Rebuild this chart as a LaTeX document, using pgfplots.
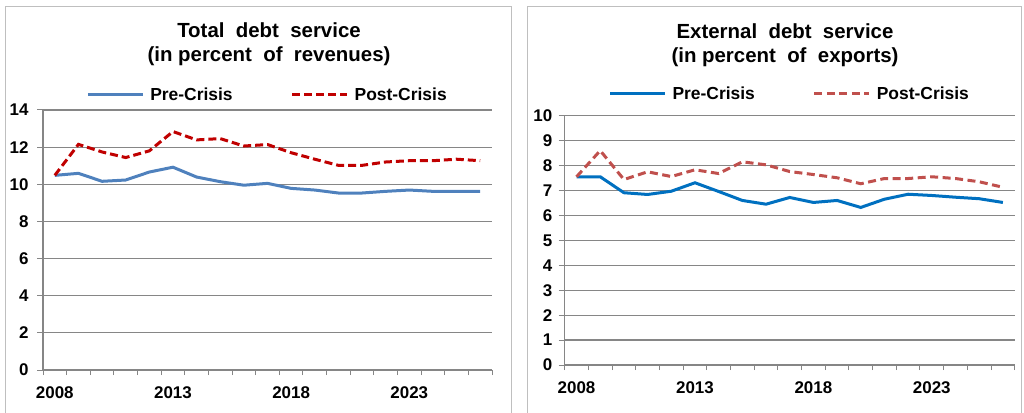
\documentclass[border=0pt]{standalone}
\usepackage{fontspec}
\setmainfont{Liberation Sans}
\usepackage{pgfplots}
\pgfplotsset{compat=1.18}

\definecolor{gridgray}{HTML}{868686}
\definecolor{panelgray}{HTML}{BFBFBF}
\definecolor{preA}{HTML}{4F81BD}
\definecolor{postA}{HTML}{C00000}
\definecolor{preB}{HTML}{0070C0}
\definecolor{postB}{HTML}{C0504D}

\pgfplotsset{
  debtpanel/.style={
    scale only axis, anchor=south west,
    xmin=-0.5, xmax=18.5, ymin=0,
    axis x line*=bottom, axis y line*=left,
    axis line style={gridgray, line width=1.3bp},
    ymajorgrids, grid style={gridgray, line width=1.2bp},
    tick align=outside,
    xtick={0,5,10,15}, xticklabels={2008,2013,2018,2023},
    major x tick style={draw=none},
    minor xtick={-0.5,0.5,...,18.5},
    minor x tick style={gridgray, line width=1bp},
    minor tick length=5bp,
    major tick length=6bp,
    y tick style={gridgray, line width=1bp},
    /pgf/number format/assume math mode=true,
    ticklabel style={font=\bfseries\fontsize{17}{19}\selectfont},
    xticklabel style={yshift=-7bp},
    legend columns=2,
    legend style={at={(0.5,1)}, anchor=south, draw=none, fill=none,
      font=\bfseries\fontsize{17.5}{19}\selectfont,
      /tikz/every odd column/.append style={column sep=4bp},
      /tikz/every even column/.append style={column sep=56bp}},
    legend image code/.code={\draw[#1] (0bp,0bp) -- (55bp,0bp);},
  },
}

\begin{document}
\begin{tikzpicture}[x=1bp,y=1bp]
\useasboundingbox (0,0) rectangle (1024,412);

% panel frames
\draw[panelgray, line width=1bp] (5,-10) |- (511,405) -- (511,-10);
\draw[panelgray, line width=1bp] (527,-10) |- (1021,405) -- (1021,-10);

% titles
\node[align=center, font=\bfseries\fontsize{20.5}{24}\selectfont] at (269,368)
  {Total\ \ debt\ \ service\\(in\ percent\ \ of\ \ revenues)};
\node[align=center, font=\bfseries\fontsize{20.5}{24}\selectfont] at (785,367)
  {External\ \ debt\ \ service\\(in\ percent\ \ of\ \ exports)};

% left: total debt service, percent of revenues
\begin{axis}[debtpanel, at={(43bp,42bp)}, width=449bp, height=260bp,
  ymax=14, ytick={0,2,...,14}, yticklabel style={xshift=-5bp},
  legend style={yshift=4bp}]
\addplot[preA, line width=3bp] coordinates {
 (0,10.48) (1,10.59) (2,10.16) (3,10.23) (4,10.66) (5,10.92) (6,10.39)
 (7,10.14) (8,9.95) (9,10.05) (10,9.78) (11,9.69) (12,9.53) (13,9.53)
 (14,9.62) (15,9.69) (16,9.62) (17,9.62) (18,9.62)};
\addlegendentry{Pre-Crisis}
\addplot[postA, line width=3bp, dash pattern=on 8bp off 4bp] coordinates {
 (0,10.48) (1,12.15) (2,11.74) (3,11.44) (4,11.80) (5,12.84) (6,12.39)
 (7,12.46) (8,12.06) (9,12.14) (10,11.70) (11,11.35) (12,11.02) (13,11.02)
 (14,11.20) (15,11.27) (16,11.27) (17,11.35) (18,11.27)};
\addlegendentry{Post-Crisis}
\end{axis}

% right: external debt service, percent of exports
\begin{axis}[debtpanel, at={(564.7bp,47bp)}, width=450bp, height=249.3bp,
  ymax=10, ytick={0,1,...,10}, yticklabel style={xshift=-3bp},
  legend style={yshift=11bp}]
\addplot[preB, line width=3bp] coordinates {
 (0,7.55) (1,7.55) (2,6.91) (3,6.84) (4,6.97) (5,7.31) (6,6.96)
 (7,6.60) (8,6.45) (9,6.72) (10,6.52) (11,6.60) (12,6.32) (13,6.65)
 (14,6.85) (15,6.80) (16,6.73) (17,6.67) (18,6.52)};
\addlegendentry{Pre-Crisis}
\addplot[postB, line width=3bp, dash pattern=on 8bp off 4.5bp] coordinates {
 (0,7.55) (1,8.60) (2,7.44) (3,7.75) (4,7.56) (5,7.83) (6,7.68)
 (7,8.15) (8,8.03) (9,7.76) (10,7.64) (11,7.51) (12,7.27) (13,7.48)
 (14,7.48) (15,7.55) (16,7.48) (17,7.35) (18,7.13)};
\addlegendentry{Post-Crisis}
\end{axis}
\end{tikzpicture}
\end{document}
